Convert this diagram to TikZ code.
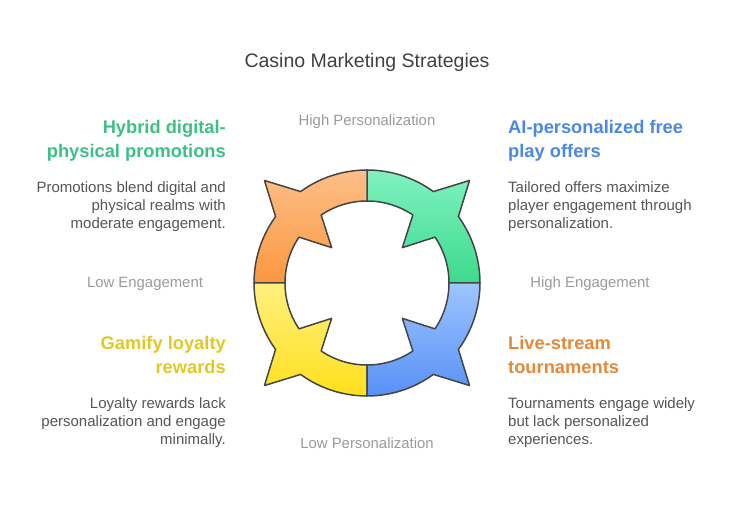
\documentclass[tikz,border=0pt]{standalone}
\usepackage{fontspec}
\setmainfont{Liberation Sans}
\usetikzlibrary{positioning}
\definecolor{ringline}{HTML}{454545}
\definecolor{greenT}{HTML}{80F2C0}
\definecolor{greenB}{HTML}{3DDA8E}
\definecolor{orangeT}{HTML}{FDBF88}
\definecolor{orangeB}{HTML}{FB973F}
\definecolor{yellowT}{HTML}{FFF07E}
\definecolor{yellowB}{HTML}{FFE01C}
\definecolor{blueT}{HTML}{9CC6FF}
\definecolor{blueB}{HTML}{5890F6}
\definecolor{headgreen}{HTML}{3DC086}
\definecolor{headblue}{HTML}{4A88E2}
\definecolor{headyellow}{HTML}{E2C826}
\definecolor{headorange}{HTML}{E38A3A}
\definecolor{titlegray}{HTML}{404040}
\definecolor{bodygray}{HTML}{555555}
\definecolor{axisgray}{HTML}{9A9A9A}
\tikzset{
	piece/.style={
		draw=ringline,
		line width=1.5pt,
		line join=round},
	title/.style={
		font=\fontsize{19.5}{23}\selectfont,
		text=titlegray,
		inner sep=0pt},
	axis/.style={
		font=\fontsize{14.9}{18}\selectfont,
		text=axisgray,
		inner sep=0pt},
	headleft/.style={
		font=\fontsize{18.3}{24}\selectfont\bfseries,
		align=right,
		inner sep=0pt},
	headright/.style={
		font=\fontsize{18.3}{24}\selectfont\bfseries,
		align=left,
		inner sep=0pt},
	bodyleft/.style={
		font=\fontsize{15}{18}\selectfont,
		text=bodygray,
		align=right,
		inner sep=0pt},
	bodyright/.style={
		font=\fontsize{15}{18}\selectfont,
		text=bodygray,
		align=left,
		inner sep=0pt}
}

\begin{document}
\begin{tikzpicture}
[x=1pt, y=1pt, node distance=23pt]
\useasboundingbox (-367,-235) rectangle (368,283);
\foreach \a/\tc/\bc in {0/greenT/greenB, 90/orangeT/orangeB, 180/yellowT/yellowB, 270/blueT/blueB}
	\shadedraw[piece, top color=\tc, bottom color=\bc]
		(\a:113) arc[start angle=\a, end angle=\a+36, radius=113]
		-- (\a+45:145) -- (\a+54:113)
		arc[start angle=\a+54, end angle=\a+90, radius=113]
		-- (\a+90:82) arc[start angle=\a+90, end angle=\a+56, radius=82]
		-- (\a+45:50) -- (\a+34:82)
		arc[start angle=\a+34, end angle=\a, radius=82] -- cycle;
\node[title, anchor=base] (title) at (0,215) {Casino Marketing Strategies};
\node[axis, anchor=base] (highp) at (0,157) {High Personalization};
\node[axis, anchor=base] (lowp) at (0,-166) {Low Personalization};
\node[axis, anchor=base] (lowe) at (-222,-5) {Low Engagement};
\node[axis, anchor=base] (highe) at (223,-5) {High Engagement};
\node[headleft, text=headgreen, anchor=base east] (hybrid) at (-141,125) {Hybrid digital-\\physical promotions};
\node[bodyleft, below left=23pt and 0pt of hybrid.base east] (hybridtxt) {Promotions blend digital and\\physical realms with\\moderate engagement.};
\node[headright, text=headblue, anchor=base west] (aifree) at (141,125) {AI-personalized free\\play offers};
\node[bodyright, below right=23pt and 0pt of aifree.base west] (aifreetxt) {Tailored offers maximize\\player engagement through\\personalization.};
\node[headleft, text=headyellow, anchor=base east] (gamify) at (-141,-91) {Gamify loyalty\\rewards};
\node[bodyleft, below left=23pt and 0pt of gamify.base east] (gamifytxt) {Loyalty rewards lack\\personalization and engage\\minimally.};
\node[headright, text=headorange, anchor=base west] (live) at (141,-91) {Live-stream\\tournaments};
\node[bodyright, below right=23pt and 0pt of live.base west] (livetxt) {Tournaments engage widely\\but lack personalized\\experiences.};
\end{tikzpicture}
\end{document}
